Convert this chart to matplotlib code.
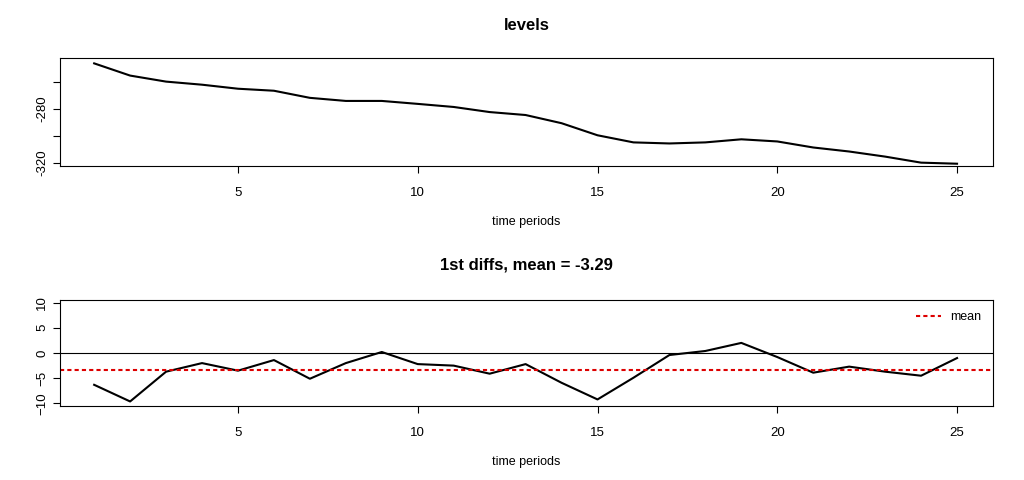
import matplotlib
matplotlib.use('Agg')
import matplotlib.pyplot as plt
import numpy as np

# Daten
t = np.arange(1, 26)
levels = [-246.0, -255.1, -259.6, -261.9, -264.9, -266.4, -271.7, -274.0, -274.0,
          -276.2, -278.5, -282.3, -284.5, -290.6, -299.6, -304.9, -305.7, -304.9,
          -302.6, -304.2, -308.7, -311.7, -315.5, -320.0, -320.8]
diffs = [-6.3, -9.6, -3.7, -2.0, -3.5, -1.4, -5.1, -2.0, 0.2, -2.2, -2.5, -4.1, -2.2,
         -5.9, -9.2, -4.9, -0.4, 0.4, 2.0, -0.8, -3.9, -2.7, -3.7, -4.5, -1.0]
mean_diff = -3.29

plt.rcParams['font.family'] = ['Liberation Sans', 'DejaVu Sans']
fig = plt.figure(figsize=(10.24, 4.8), dpi=100)
W, H = 1024, 480

def box(l, t_, r, b):
    return [l / W, 1 - b / H, (r - l) / W, (b - t_) / H]

def style(ax):
    ax.set_xlim(0.05, 26.0)
    ax.set_xticks([5, 10, 15, 20, 25])
    ax.tick_params(labelsize=9.5, length=5)
    ax.tick_params(axis='x', pad=10)
    for lab in ax.get_yticklabels():
        lab.set_rotation(90)
        lab.set_va('center')
    ax.set_xlabel('time periods', fontsize=9, labelpad=12)

ax1 = fig.add_axes(box(60, 58, 993, 166))
ax1.plot(t, levels, color='black', lw=1.5)
ax1.set_ylim(-322.5, -242)
ax1.set_yticks([-320, -300, -280, -260])
ax1.set_yticklabels(['-320', '', '-280', ''])
style(ax1)
ax1.set_title('levels', fontsize=12, fontweight='bold', pad=20)

ax2 = fig.add_axes(box(60, 300, 993, 406))
ax2.axhline(0, color='black', lw=0.8)
ax2.plot(t, diffs, color='black', lw=1.5)
ax2.axhline(mean_diff, color='#dd0000', lw=1.5, ls=(0, (2, 1.5)), label='mean')
ax2.set_ylim(-10.5, 10.5)
ax2.set_yticks([-10, -5, 0, 5, 10])
style(ax2)
ax2.set_title('1st diffs, mean = -3.29', fontsize=12, fontweight='bold', pad=22)
ax2.legend(loc='upper right', frameon=False, fontsize=9)

plt.savefig('out.png', dpi=100)
